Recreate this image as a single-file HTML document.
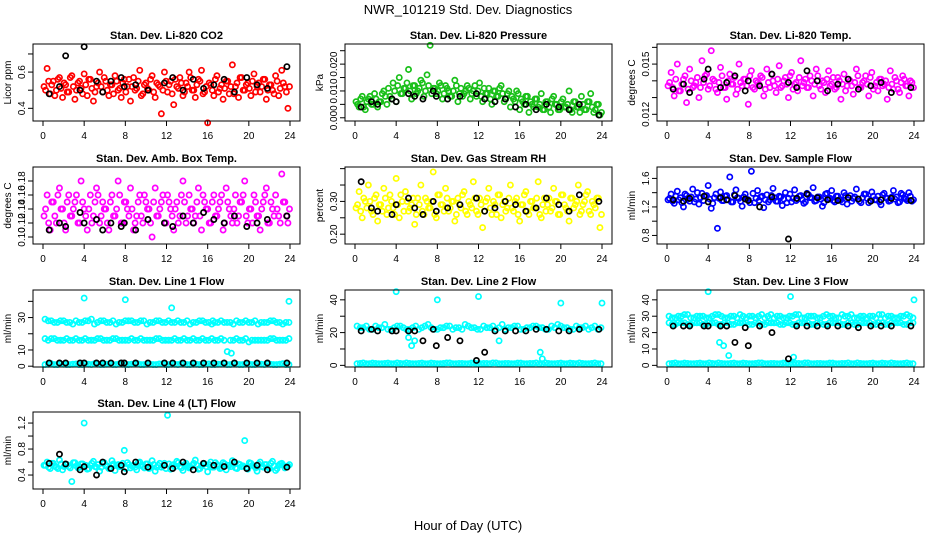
<!DOCTYPE html>
<html><head><meta charset="utf-8">
<style>
body{margin:0;background:#fff;}
svg{display:block;font-family:"Liberation Sans",sans-serif;}
</style></head>
<body>
<svg id="chart" width="936" height="540" viewBox="0 0 936 540">
<rect x="0" y="0" width="936" height="540" fill="#fff"/>
<text x="468" y="14" text-anchor="middle" font-size="13">NWR_101219  Std. Dev. Diagnostics</text>
<text x="468" y="530" text-anchor="middle" font-size="13">Hour of Day (UTC)</text>
</svg>
<script>
const tA=[0.1,0.4,0.7,1.0,1.3,1.6,1.9,2.2,2.5,2.8,3.1,3.4,3.7,4.0,4.3,4.6,4.9,5.2,5.5,5.8,6.1,6.4,6.7,7.0,7.3,7.6,7.9,8.2,8.5,8.8,9.1,9.4,9.7,10.0,10.3,10.6,10.9,11.2,11.5,11.8,12.1,12.4,12.7,13.0,13.3,13.6,13.9,14.2,14.5,14.8,15.1,15.4,15.7,16.0,16.3,16.6,16.9,17.2,17.5,17.8,18.1,18.4,18.7,19.0,19.3,19.6,19.9,20.2,20.5,20.8,21.1,21.4,21.7,22.0,22.3,22.6,22.9,23.2,23.5,23.8];
const tB=[0.25,0.55,0.85,1.15,1.45,1.75,2.05,2.35,2.65,2.95,3.25,3.55,3.85,4.15,4.45,4.75,5.05,5.35,5.65,5.95,6.25,6.55,6.85,7.15,7.45,7.75,8.05,8.35,8.65,8.95,9.25,9.55,9.85,10.15,10.45,10.75,11.05,11.35,11.65,11.95,12.25,12.55,12.85,13.15,13.45,13.75,14.05,14.35,14.65,14.95,15.25,15.55,15.85,16.15,16.45,16.75,17.05,17.35,17.65,17.95,18.25,18.55,18.85,19.15,19.45,19.75,20.05,20.35,20.65,20.95,21.25,21.55,21.85,22.15,22.45,22.75,23.05,23.35,23.65,23.95];
const tH=[0.2,0.8,1.4,2.0,2.6,3.2,3.8,4.4,5.0,5.6,6.2,6.8,7.4,8.0,8.6,9.2,9.8,10.4,11.0,11.6,12.2,12.8,13.4,14.0,14.6,15.2,15.8,16.4,17.0,17.6,18.2,18.8,19.4,20.0,20.6,21.2,21.8,22.4,23.0,23.6];
const tH2=[0.5,1.1,1.7,2.3,2.9,3.5,4.1,4.7,5.3,5.9,6.5,7.1,7.7,8.3,8.9,9.5,10.1,10.7,11.3,11.9,12.5,13.1,13.7,14.3,14.9,15.5,16.1,16.7,17.3,17.9,18.5,19.1,19.7,20.3,20.9,21.5,22.1,22.7,23.3,23.9];
const tK=[0.6,1.6,2.2,3.6,4.0,5.2,5.8,6.6,7.6,7.9,9.0,10.2,11.8,12.6,13.6,14.6,15.6,16.6,17.6,18.6,19.8,20.8,21.8,23.7];

const co2Vals=[0.52,0.62,0.48,0.55,0.50,0.57,0.46,0.53,0.49,0.58,0.45,0.54,0.51,0.59,0.47,0.56,0.44,0.52,0.60,0.49,0.55,0.47,0.53,0.58,0.50,0.46,0.56,0.52,0.44,0.57,0.51,0.61,0.48,0.54,0.50,0.58,0.46,0.53,0.37,0.60,0.49,0.55,0.42,0.52,0.57,0.47,0.54,0.60,0.50,0.46,0.56,0.61,0.49,0.32,0.53,0.47,0.58,0.51,0.45,0.55,0.48,0.64,0.52,0.46,0.57,0.50,0.54,0.47,0.59,0.52,0.49,0.56,0.45,0.53,0.50,0.58,0.47,0.61,0.52,0.40];
const co2B=[0.50,0.55,0.53,0.47,0.56,0.51,0.54,0.49,0.57,0.52,0.50,0.55,0.48,0.53,0.56,0.51,0.49,0.54,0.52,0.57,0.50,0.53,0.48,0.55,0.51,0.54,0.49,0.56,0.52,0.50,0.55,0.47,0.53,0.51,0.56,0.49,0.54,0.52,0.50,0.55,0.53,0.48,0.56,0.51,0.54,0.49,0.52,0.57,0.50,0.53,0.55,0.48,0.52,0.54,0.50,0.56,0.49,0.53,0.51,0.55,0.52,0.48,0.54,0.57,0.50,0.53,0.51,0.55,0.49,0.54,0.52,0.56,0.50,0.53,0.48,0.55,0.51,0.54,0.49,0.52];
const co2Black=[0.48,0.52,0.69,0.50,0.74,0.55,0.49,0.55,0.57,0.52,0.53,0.50,0.54,0.57,0.50,0.56,0.51,0.53,0.56,0.49,0.57,0.53,0.51,0.63];
const presVals=[0.006,0.004,0.008,0.003,0.007,0.005,0.009,0.004,0.006,0.010,0.005,0.008,0.013,0.006,0.015,0.009,0.011,0.018,0.007,0.012,0.010,0.014,0.008,0.016,0.027,0.011,0.009,0.013,0.007,0.012,0.010,0.008,0.014,0.006,0.011,0.009,0.012,0.007,0.010,0.008,0.013,0.006,0.009,0.011,0.005,0.010,0.008,0.012,0.006,0.009,0.004,0.007,0.010,0.003,0.006,0.008,0.002,0.005,0.007,0.004,0.009,0.003,0.006,0.002,0.008,0.005,0.003,0.007,0.004,0.010,0.002,0.006,0.004,0.008,0.003,0.006,0.009,0.002,0.005,0.001];
const presB=[0.005,0.007,0.004,0.006,0.008,0.005,0.007,0.006,0.009,0.008,0.011,0.007,0.010,0.012,0.009,0.011,0.013,0.010,0.012,0.009,0.011,0.013,0.010,0.012,0.009,0.011,0.010,0.012,0.009,0.011,0.008,0.010,0.012,0.009,0.008,0.010,0.011,0.009,0.012,0.010,0.008,0.011,0.009,0.007,0.010,0.008,0.011,0.009,0.007,0.010,0.008,0.006,0.009,0.007,0.005,0.008,0.006,0.004,0.007,0.005,0.003,0.006,0.004,0.007,0.005,0.003,0.006,0.004,0.005,0.003,0.006,0.004,0.002,0.005,0.003,0.006,0.004,0.003,0.005,0.002];
const presBlack=[0.004,0.006,0.005,0.007,0.006,0.009,0.008,0.007,0.010,0.008,0.007,0.008,0.009,0.007,0.006,0.007,0.004,0.005,0.003,0.005,0.004,0.003,0.005,0.001];
const tempVals=[0.0137,0.0145,0.0131,0.0150,0.0134,0.0141,0.0127,0.0147,0.0136,0.0139,0.0130,0.0152,0.0143,0.0135,0.0158,0.0140,0.0133,0.0148,0.0136,0.0129,0.0144,0.0138,0.0132,0.0150,0.0137,0.0141,0.0126,0.0146,0.0135,0.0139,0.0143,0.0131,0.0147,0.0136,0.0140,0.0133,0.0149,0.0137,0.0142,0.0130,0.0145,0.0138,0.0134,0.0152,0.0139,0.0136,0.0143,0.0131,0.0147,0.0137,0.0140,0.0133,0.0146,0.0138,0.0135,0.0142,0.0129,0.0144,0.0137,0.0140,0.0132,0.0147,0.0136,0.0139,0.0143,0.0131,0.0145,0.0137,0.0134,0.0141,0.0138,0.0129,0.0146,0.0135,0.0140,0.0133,0.0143,0.0137,0.0131,0.0139];
const tempB=[0.0139,0.0136,0.0141,0.0134,0.0138,0.0143,0.0135,0.0140,0.0137,0.0142,0.0136,0.0139,0.0144,0.0137,0.0141,0.0135,0.0139,0.0143,0.0136,0.0140,0.0138,0.0142,0.0135,0.0139,0.0141,0.0137,0.0143,0.0136,0.0140,0.0138,0.0142,0.0135,0.0139,0.0144,0.0137,0.0141,0.0136,0.0140,0.0138,0.0143,0.0135,0.0139,0.0142,0.0137,0.0141,0.0136,0.0140,0.0138,0.0143,0.0135,0.0139,0.0141,0.0137,0.0142,0.0136,0.0140,0.0138,0.0134,0.0141,0.0137,0.0139,0.0143,0.0136,0.0140,0.0138,0.0142,0.0135,0.0139,0.0141,0.0137,0.0140,0.0136,0.0138,0.0142,0.0135,0.0139,0.0141,0.0137,0.0140,0.0136];
const tempBlack=[0.0135,0.0138,0.0133,0.0141,0.0147,0.0136,0.0139,0.0143,0.0134,0.0140,0.0137,0.0144,0.0139,0.0136,0.0146,0.0140,0.0134,0.0138,0.0141,0.0135,0.0137,0.0139,0.0133,0.0136];
const ambVals=[0.13,0.16,0.11,0.15,0.12,0.17,0.14,0.11,0.16,0.13,0.15,0.12,0.18,0.14,0.11,0.16,0.13,0.17,0.12,0.15,0.14,0.11,0.16,0.13,0.18,0.12,0.15,0.14,0.17,0.11,0.13,0.16,0.12,0.15,0.14,0.10,0.17,0.13,0.15,0.12,0.16,0.14,0.11,0.15,0.13,0.18,0.12,0.16,0.14,0.13,0.17,0.11,0.15,0.14,0.12,0.16,0.13,0.15,0.11,0.17,0.14,0.12,0.16,0.13,0.15,0.18,0.12,0.14,0.16,0.13,0.11,0.15,0.17,0.12,0.14,0.16,0.13,0.19,0.15,0.12];
const ambB=[0.14,0.12,0.15,0.13,0.16,0.14,0.12,0.15,0.13,0.14,0.16,0.12,0.15,0.13,0.14,0.12,0.15,0.16,0.13,0.14,0.12,0.15,0.13,0.14,0.16,0.12,0.15,0.13,0.14,0.12,0.15,0.13,0.16,0.14,0.12,0.15,0.13,0.14,0.16,0.12,0.15,0.13,0.14,0.12,0.16,0.15,0.13,0.14,0.12,0.15,0.13,0.16,0.14,0.12,0.15,0.13,0.14,0.16,0.12,0.15,0.13,0.14,0.12,0.15,0.16,0.13,0.14,0.12,0.15,0.13,0.14,0.16,0.12,0.15,0.13,0.14,0.12,0.15,0.13,0.14];
const ambBlack=[0.11,0.12,0.115,0.135,0.12,0.125,0.11,0.12,0.115,0.12,0.11,0.125,0.12,0.115,0.13,0.12,0.135,0.125,0.12,0.13,0.115,0.12,0.125,0.13];
const rhVals=[0.28,0.33,0.25,0.30,0.35,0.27,0.31,0.24,0.29,0.34,0.26,0.32,0.28,0.37,0.25,0.30,0.33,0.27,0.29,0.23,0.31,0.35,0.26,0.30,0.28,0.39,0.25,0.32,0.29,0.34,0.27,0.30,0.24,0.31,0.28,0.33,0.26,0.29,0.36,0.27,0.31,0.22,0.30,0.34,0.26,0.29,0.32,0.25,0.30,0.28,0.35,0.27,0.31,0.24,0.29,0.33,0.26,0.30,0.28,0.36,0.25,0.31,0.29,0.27,0.34,0.30,0.26,0.32,0.28,0.24,0.31,0.29,0.35,0.27,0.30,0.33,0.26,0.29,0.31,0.22];
const rhB=[0.29,0.27,0.31,0.28,0.30,0.26,0.32,0.29,0.27,0.31,0.28,0.30,0.26,0.29,0.32,0.27,0.30,0.28,0.31,0.26,0.29,0.27,0.31,0.28,0.30,0.26,0.32,0.29,0.27,0.31,0.28,0.30,0.26,0.29,0.32,0.27,0.30,0.28,0.31,0.26,0.29,0.27,0.31,0.28,0.30,0.26,0.32,0.29,0.27,0.31,0.28,0.30,0.26,0.29,0.32,0.27,0.30,0.28,0.31,0.26,0.29,0.27,0.31,0.28,0.30,0.26,0.32,0.29,0.27,0.31,0.28,0.30,0.26,0.29,0.32,0.27,0.30,0.28,0.31,0.26];
const rhBlack=[0.36,0.28,0.27,0.26,0.29,0.31,0.28,0.26,0.30,0.27,0.28,0.29,0.31,0.27,0.28,0.30,0.29,0.27,0.28,0.31,0.29,0.27,0.32,0.30];
const flowVals=[1.30,1.38,1.25,1.42,1.33,1.20,1.36,1.28,1.45,1.31,1.24,1.39,1.35,1.50,1.18,1.33,0.90,1.41,1.29,1.36,1.62,1.27,1.44,1.32,1.21,1.38,1.30,1.70,1.26,1.43,1.34,1.19,1.37,1.30,1.46,1.28,1.35,1.22,1.40,1.32,1.27,1.44,1.31,1.36,1.25,1.39,1.33,1.47,1.29,1.34,1.21,1.38,1.31,1.43,1.27,1.35,1.30,1.40,1.24,1.36,1.32,1.45,1.28,1.33,1.38,1.26,1.41,1.30,1.35,1.23,1.39,1.32,1.29,1.43,1.34,1.27,1.37,1.31,1.40,1.28];
const flowB=[1.32,1.28,1.35,1.30,1.26,1.38,1.31,1.34,1.27,1.40,1.33,1.29,1.36,1.31,1.25,1.38,1.32,1.29,1.35,1.30,1.27,1.37,1.33,1.28,1.34,1.31,1.26,1.39,1.32,1.29,1.35,1.30,1.27,1.36,1.33,1.28,1.34,1.31,1.26,1.38,1.32,1.29,1.35,1.30,1.27,1.37,1.33,1.28,1.34,1.31,1.26,1.39,1.32,1.29,1.35,1.30,1.27,1.36,1.33,1.28,1.34,1.31,1.26,1.38,1.32,1.29,1.35,1.30,1.27,1.37,1.33,1.28,1.34,1.31,1.26,1.39,1.32,1.29,1.35,1.30];
const flowBlack=[1.30,1.28,1.32,1.35,1.27,1.33,1.30,1.36,1.31,1.29,1.20,1.34,0.75,1.32,1.38,1.33,1.30,1.29,1.33,1.31,1.28,1.30,1.32,1.29];
const lowBand=[1,1.5,1,1.2,1,1.4,1,1.2,1.5,1,1.2,1,1.4,1,1.2,1.5,1,1.2,1,1.4,1,1.2,1.5,1,1.2,1,1.4,1,1.2,1.5,1,1.2,1,1.4,1,1.2,1.5,1,1.2,1];
const lowBand2=[1.2,1,1.4,1,1.2,1,1.5,1,1.2,1,1.4,1,1.2,1,1.5,1,1.2,1,1.4,1,1.2,1,1.5,1,1.2,1,1.4,1,1.2,1,1.5,1,1.2,1,1.4,1,1.2,1,1.5,1];
const l1High=[29,28,27,28,27,28,27,28,26,28,27,28,27,28,28,27,28,27,28,27,28,27,27,28,27,28,27,26,27,27,27,28,27,27,28,27,27,28,27,27];
const l1High2=[28,27,28,27,26,27,28,29,27,28,27,26,27,28,27,28,26,27,28,27,27,28,27,26,27,28,27,27,28,27,26,27,28,27,26,27,28,27,26,27];
const l1Mid=[17,17,16,16,16,17,16,16,16,17,16,17,16,16,17,16,16,16,17,16,16,17,16,16,17,16,16,17,16,16,16,17,16,15,16,16,16,17,16,16];
const l1Mid2=[16,17,16,17,16,16,17,16,17,16,16,17,16,16,16,17,16,16,17,16,16,16,17,16,16,17,16,16,17,9,16,16,17,16,16,16,17,16,16,17];
const l1OutT=[4,8,12.5,16.5,18.3,23.9];
const l1OutV=[42,41,36,28,8,40];
const l1Black=[2,2,2,2,2,2,2,2,2,2,2,2,2,2,2,2,2,2,2,2,2,2,2,2];
const l2Band=[24,23,22,24,23,22,23,24,22,23,22,24,23,22,23,24,23,22,24,23,22,23,24,23,22,23,24,22,23,24,23,22,23,24,23,22,23,24,23,22];
const l2Band2=[23,24,22,23,25,22,24,23,22,24,23,25,22,23,24,22,23,25,23,22,24,23,22,25,23,24,22,23,24,23,22,24,25,23,22,24,23,22,24,23];
const l2OutT=[4,5.2,5.5,5.8,8,12,14,18,18.2,20,24];
const l2OutV=[45,17,12,15,40,42,15,8,4,38,38];
const l2Black=[21,22,21,21,21,21,21,15,22,12,17,15,3,8,21,21,21,21,22,22,21,21,22,22];
const l3High=[30,29,30,31,29,30,29,30,31,29,30,29,30,30,29,31,30,29,30,29,30,31,29,30,29,30,30,29,31,30,29,30,29,30,31,29,30,29,30,30];
const l3High2=[29,30,31,29,30,30,29,31,30,29,30,31,29,30,30,29,31,30,29,30,31,29,30,30,29,31,30,29,30,31,29,30,30,29,31,30,29,30,31,29];
const l3Mid=[26,25,26,25,26,26,25,26,25,26,25,26,26,25,26,25,26,26,25,26,25,26,26,25,26,25,26,26,25,26,25,26,26,25,26,25,26,26,25,26];
const l3Mid2=[25,26,26,25,26,25,26,26,25,26,25,26,26,25,26,25,26,26,25,26,25,26,26,25,26,25,26,26,25,26,25,26,26,25,26,25,26,26,25,26];
const l3OutT=[4,5.1,5.5,6,12,12.3,24];
const l3OutV=[45,14,12,6,42,5,40];
const l3Black=[24,24,24,24,24,24,24,14,23,12,24,20,4,24,24,24,24,24,24,23,24,24,24,24];
const l4Vals=[0.55,0.60,0.50,0.58,0.52,0.63,0.48,0.56,0.53,0.30,0.59,0.51,0.57,1.20,0.49,0.55,0.61,0.52,0.46,0.58,0.54,0.50,0.62,0.47,0.56,0.53,0.78,0.59,0.51,0.55,0.48,0.60,0.53,0.57,0.50,0.62,0.46,0.55,0.52,0.58,1.32,0.49,0.56,0.61,0.53,0.47,0.58,0.51,0.55,0.63,0.49,0.54,0.57,0.45,0.60,0.52,0.56,0.50,0.59,0.48,0.55,0.62,0.51,0.57,0.53,0.93,0.49,0.58,0.54,0.46,0.60,0.52,0.56,0.50,0.61,0.47,0.55,0.58,0.51,0.54];
const l4B=[0.55,0.52,0.58,0.54,0.50,0.57,0.53,0.56,0.51,0.59,0.54,0.52,0.57,0.55,0.50,0.58,0.53,0.56,0.52,0.59,0.54,0.51,0.57,0.55,0.53,0.58,0.50,0.56,0.54,0.52,0.59,0.55,0.51,0.57,0.53,0.56,0.52,0.58,0.54,0.50,0.57,0.55,0.53,0.59,0.51,0.56,0.54,0.52,0.58,0.55,0.50,0.57,0.53,0.56,0.52,0.59,0.54,0.51,0.57,0.55,0.53,0.58,0.50,0.56,0.54,0.52,0.59,0.55,0.51,0.57,0.53,0.56,0.52,0.58,0.54,0.50,0.57,0.55,0.53,0.56];
const l4Black=[0.58,0.72,0.57,0.48,0.53,0.40,0.60,0.50,0.55,0.45,0.60,0.52,0.55,0.50,0.60,0.48,0.58,0.55,0.53,0.60,0.50,0.55,0.48,0.52];
const xTicks=[0,4,8,12,16,20,24];

const CY='#00ffff';
const panels=[
 {name:'co2',title:'Stan. Dev. Li-820 CO2',ylab:'Licor ppm',col:0,row:0,ymin:0.33,ymax:0.755,ticks:[0.4,0.5,0.6,0.7],labels:[0.4,0.6],dec:1,
  series:[[tA,co2Vals,'#ff0000'],[tB,co2B,'#ff0000'],[tK,co2Black,'#000']]},
 {name:'pressure',title:'Stan. Dev. Li-820 Pressure',ylab:'kPa',col:1,row:0,ymin:-0.0012,ymax:0.0275,ticks:[0,0.005,0.01,0.015,0.02,0.025],labels:[0,0.01,0.02],dec:3,
  series:[[tA,presVals,'#19c019'],[tB,presB,'#19c019'],[tK,presBlack,'#000']]},
 {name:'temp',title:'Stan. Dev. Li-820 Temp.',ylab:'degrees C',col:2,row:0,ymin:0.0116,ymax:0.0162,ticks:[0.012,0.013,0.014,0.015,0.016],labels:[0.012,0.015],dec:3,
  series:[[tA,tempVals,'#ff00ff'],[tB,tempB,'#ff00ff'],[tK,tempBlack,'#000']]},
 {name:'amb-box',title:'Stan. Dev. Amb. Box Temp.',ylab:'degrees C',col:0,row:1,ymin:0.09,ymax:0.2,ticks:[0.1,0.12,0.14,0.16,0.18],labels:[0.1,0.12,0.14,0.16,0.18],dec:2,
  series:[[tA,ambVals,'#ff00ff'],[tB,ambB,'#ff00ff'],[tK,ambBlack,'#000']]},
 {name:'gas-rh',title:'Stan. Dev. Gas Stream RH',ylab:'percent',col:1,row:1,ymin:0.17,ymax:0.405,ticks:[0.2,0.25,0.3,0.35,0.4],labels:[0.2,0.3],dec:2,
  series:[[tA,rhVals,'#ffff00'],[tB,rhB,'#ffff00'],[tK,rhBlack,'#000']]},
 {name:'sample-flow',title:'Stan. Dev. Sample Flow',ylab:'ml/min',col:2,row:1,ymin:0.68,ymax:1.76,ticks:[0.8,1.0,1.2,1.4,1.6],labels:[0.8,1.2,1.6],dec:1,
  series:[[tA,flowVals,'#0000ff'],[tB,flowB,'#0000ff'],[tK,flowBlack,'#000']]},
 {name:'line1',title:'Stan. Dev. Line 1 Flow',ylab:'ml/min',col:0,row:2,ymin:-0.5,ymax:47,ticks:[0,10,20,30,40],labels:[0,10,30],dec:0,
  series:[[tH,l1High,CY],[tH2,l1High2,CY],[tH,l1Mid,CY],[tH2,l1Mid2,CY],[tH,lowBand,CY],[tH2,lowBand2,CY],[l1OutT,l1OutV,CY],[tK,l1Black,'#000']]},
 {name:'line2',title:'Stan. Dev. Line 2 Flow',ylab:'ml/min',col:1,row:2,ymin:-1,ymax:46,ticks:[0,10,20,30,40],labels:[0,20,40],dec:0,
  series:[[tH,l2Band,CY],[tH2,l2Band2,CY],[tH,lowBand,CY],[tH2,lowBand2,CY],[l2OutT,l2OutV,CY],[tK,l2Black,'#000']]},
 {name:'line3',title:'Stan. Dev. Line 3 Flow',ylab:'ml/min',col:2,row:2,ymin:-1,ymax:46,ticks:[0,10,20,30,40],labels:[0,10,20,30,40],dec:0,
  series:[[tH,l3High,CY],[tH2,l3High2,CY],[tH,l3Mid,CY],[tH2,l3Mid2,CY],[tH,lowBand,CY],[tH2,lowBand2,CY],[l3OutT,l3OutV,CY],[tK,l3Black,'#000']]},
 {name:'line4',title:'Stan. Dev. Line 4 (LT) Flow',ylab:'ml/min',col:0,row:3,ymin:0.185,ymax:1.37,ticks:[0.4,0.6,0.8,1.0,1.2],labels:[0.4,0.8,1.2],dec:1,
  series:[[tA,l4Vals,CY],[tB,l4B,CY],[tK,l4Black,'#000']]}
];

const NS='http://www.w3.org/2000/svg';
const svg=document.getElementById('chart');
const colX=[33,345,657], rowY=[44,167,290,412], W=267, H=77;
function mk(tag,attrs,parent){const e=document.createElementNS(NS,tag);for(const k in attrs)e.setAttribute(k,attrs[k]);(parent||svg).appendChild(e);return e;}

panels.forEach(p=>{
  const bx=colX[p.col], by=rowY[p.row];
  const g=mk('g',{});
  
  
  const xs=h=>bx+10+h*(W-20)/24;
  const ys=v=>by+H-(v-p.ymin)/(p.ymax-p.ymin)*H;
  const t=mk('text',{x:bx+W/2,y:by-5,'text-anchor':'middle','font-size':11,'font-weight':'bold'},g);
  t.textContent=p.title;
  
  
  const yl=mk('text',{x:0,y:0,'text-anchor':'middle','font-size':10,transform:`translate(${bx-22},${by+H/2}) rotate(-90)`},g);
  yl.textContent=p.ylab;
  
  
  p.ticks.forEach(v=>{
    const y=ys(v);
    const tk=mk('line',{x1:bx-5,x2:bx,y1:y,y2:y,stroke:'#000','stroke-width':1},g);
    
    
  });
  p.labels.forEach(v=>{
    const y=ys(v);
    const lb=mk('text',{x:0,y:0,'text-anchor':'middle','font-size':10,transform:`translate(${bx-8},${y}) rotate(-90)`},g);
    lb.textContent=v.toFixed(p.dec);
    
    
  });
  xTicks.forEach(h=>{
    const x=xs(h);
    const tk=mk('line',{x1:x,x2:x,y1:by+H,y2:by+H+5,stroke:'#000','stroke-width':1},g);
    
    
    const lb=mk('text',{x:x,y:by+H+18,'text-anchor':'middle','font-size':10},g);
    lb.textContent=h;
    
    
  });
  const pts=mk('g',{},g);
  p.series.forEach(s=>{
    const [tx,vals,color]=s;
    vals.forEach((v,i)=>{
      const c=mk('circle',{cx:xs(tx[i]),cy:ys(v),r:2.6,fill:'none',stroke:color,'stroke-width':1.7},pts);
      
      
    });
  });
  const box=mk('rect',{x:bx,y:by,width:W,height:H,fill:'none',stroke:'#000','stroke-width':1},g);
  
  
});
</script>
</body></html>
